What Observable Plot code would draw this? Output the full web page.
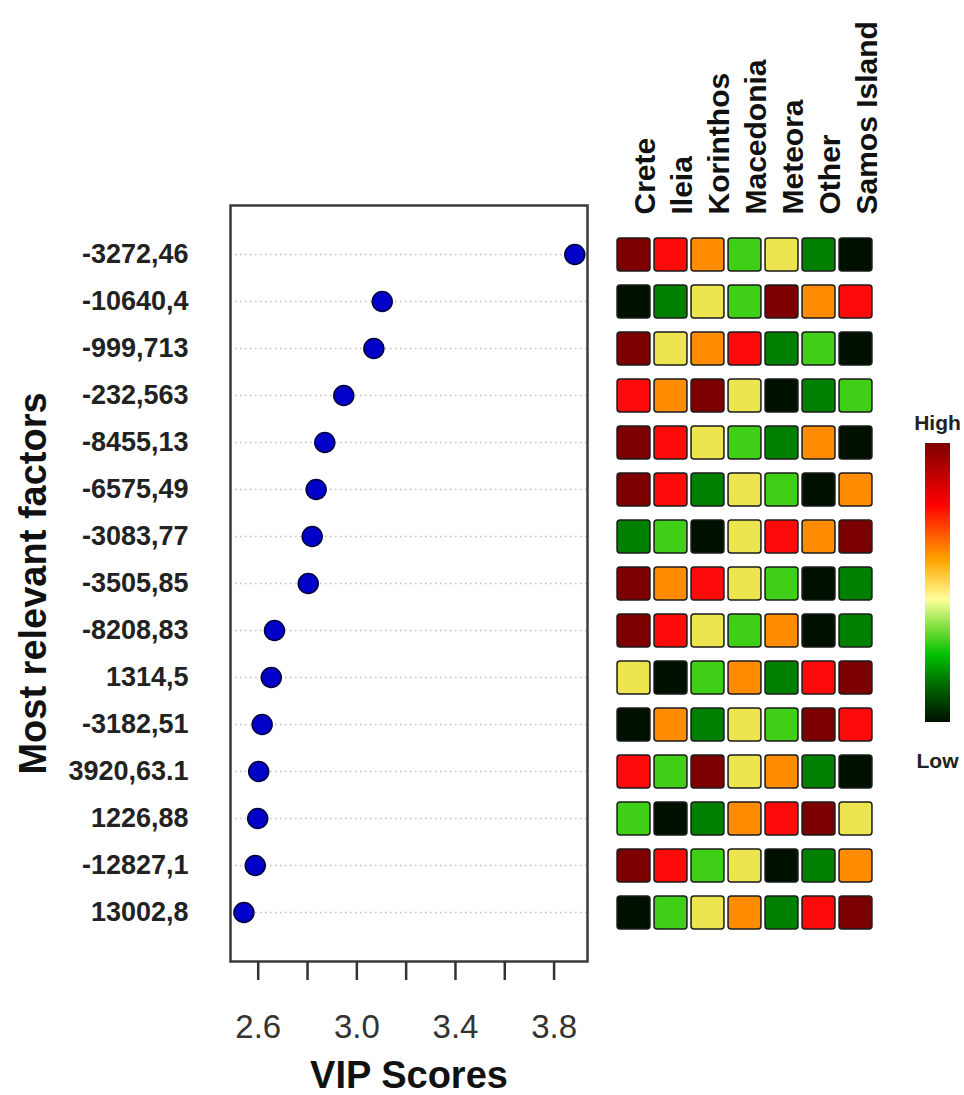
<!DOCTYPE html>
<html>
<head>
<meta charset="utf-8">
<script src="https://cdn.jsdelivr.net/npm/d3@7"></script>
<script src="https://cdn.jsdelivr.net/npm/@observablehq/plot@0.6"></script>
<style>
  html, body { margin: 0; padding: 0; background: #fff; overflow: hidden; }
  #wrap { position: relative; width: 964px; height: 1095px; font-family: "Liberation Sans", Arial, sans-serif; }
  #dots, #heat { position: absolute; top: 0; }
  #dots { left: 0; }
  #heat { left: 600px; }
  .lg { position: absolute; font-size: 21px; font-weight: bold; color: #222; text-align: center; line-height: 21px; }
  #bar { position: absolute; left: 925px; top: 443px; width: 25px; height: 279px; }
</style>
</head>
<body>
<div id="wrap">
  <div id="dots"></div>
  <div id="heat"></div>
  <div class="lg" style="left:907px; top:412px; width:61px;">High</div>
  <div id="bar"></div>
  <div class="lg" style="left:907px; top:750px; width:61px;">Low</div>
</div>
<script>
// ---- data ----
const factors = ["-3272,46","-10640,4","-999,713","-232,563","-8455,13","-6575,49","-3083,77","-3505,85","-8208,83","1314,5","-3182,51","3920,63.1","1226,88","-12827,1","13002,8"];
const vipScores = [3.884, 3.103, 3.069, 2.947, 2.870, 2.835, 2.819, 2.803, 2.666, 2.653, 2.616, 2.602, 2.598, 2.588, 2.542];
const regions = ["Crete","Ileia","Korinthos","Macedonia","Meteora","Other","Samos Island"];
// relative level per region (7 = High ... 1 = Low), one row per factor
const levels = [
  [7,6,5,3,4,2,1],
  [1,2,4,3,7,5,6],
  [7,4,5,6,2,3,1],
  [6,5,7,4,1,2,3],
  [7,6,4,3,2,5,1],
  [7,6,2,4,3,1,5],
  [2,3,1,4,6,5,7],
  [7,5,6,4,3,1,2],
  [7,6,4,3,5,1,2],
  [4,1,3,5,2,6,7],
  [1,5,2,4,3,7,6],
  [6,3,7,4,5,2,1],
  [3,1,2,5,6,7,4],
  [7,6,3,4,1,2,5],
  [1,3,4,5,2,6,7]
];
const levelDomain = [1,2,3,4,5,6,7];
const levelColors = ["#001100","#008000","#3ecf16","#ece54f","#ff8c00","#ff0a0a","#7d0000"];
const xTicks = [2.6, 2.8, 3.0, 3.2, 3.4, 3.6, 3.8];
const xTickLabels = [2.6, 3.0, 3.4, 3.8];

// ---- derived tables ----
const rows = factors.map((f, i) => ({factor: f, vip: vipScores[i]}));
const cells = [];
factors.forEach((f, i) => regions.forEach((r, j) => cells.push({factor: f, region: r, level: levels[i][j]})));

const font = '"Liberation Sans", Arial, sans-serif';

// ---- dot plot ----
const dotPlot = Plot.plot({
  width: 600, height: 1095,
  marginLeft: 230, marginRight: 13, marginTop: 205, marginBottom: 134,
  style: {fontFamily: font, background: "transparent", overflow: "visible"},
  x: {domain: [2.4876, 3.9355]},
  y: {domain: factors, type: "point", padding: 1},
  marks: [
    Plot.gridY({stroke: "#bdbdbd", strokeOpacity: 1, strokeWidth: 1.6, strokeDasharray: "1.5,3.5"}),
    Plot.frame({stroke: "#3a3a3a", strokeWidth: 2.5}),
    Plot.axisX({ticks: xTicks, tickSize: 19, tickPadding: 34,
      tickFormat: d => xTickLabels.some(t => Math.abs(t - d) < 1e-9) ? d.toFixed(1) : "",
      fontSize: 33, stroke: "#333", strokeWidth: 2.5, fill: "#333", label: null}),
    Plot.axisY({tickSize: 0, tickPadding: 42, fontSize: 27, fontWeight: "bold", fill: "#222", label: null}),
    Plot.dot(rows, {x: "vip", y: "factor", r: 10, fill: "#0000c8", stroke: "#00003a", strokeWidth: 1.5}),
    Plot.text(["VIP Scores"], {frameAnchor: "bottom", dy: 126, text: d => d, textAnchor: "middle", fontSize: 38, fontWeight: "bold", fill: "#111"}),
    Plot.text(["Most relevant factors"], {frameAnchor: "left", dx: -197, rotate: -90, text: d => d, textAnchor: "middle", fontSize: 38, fontWeight: "bold", fill: "#111"})
  ]
});
document.getElementById("dots").appendChild(dotPlot);

// ---- heatmap ----
const heat = Plot.plot({
  width: 290, height: 1095,
  marginLeft: 14.7, marginRight: 15.6, marginTop: 205, marginBottom: 134,
  style: {fontFamily: font, background: "transparent", overflow: "visible"},
  x: {domain: regions, type: "band", padding: 0, axis: null},
  y: {domain: factors, type: "band", paddingInner: 0, paddingOuter: 0.5, axis: null},
  color: {type: "ordinal", domain: levelDomain, range: levelColors},
  marks: [
    Plot.cell(cells, {x: "region", y: "factor", fill: "level",
      insetLeft: 2.05, insetRight: 2.05, insetTop: 7.1, insetBottom: 7.1,
      rx: 3, stroke: "#1b1b1b", strokeWidth: 1.5}),
    Plot.text(regions, {x: d => d, text: d => d, frameAnchor: "top", dy: 9, rotate: -90,
      textAnchor: "start", fontSize: 30, fontWeight: "bold", fill: "#111"})
  ]
});
document.getElementById("heat").appendChild(heat);

// ---- colour bar legend ----
document.getElementById("bar").style.background =
  "linear-gradient(to bottom, #7d0000 0%, #ff0000 22%, #ffa500 42%, #ffff99 56%, #80e040 66%, #00c000 76%, #006000 88%, #001000 100%)";
</script>
</body>
</html>
